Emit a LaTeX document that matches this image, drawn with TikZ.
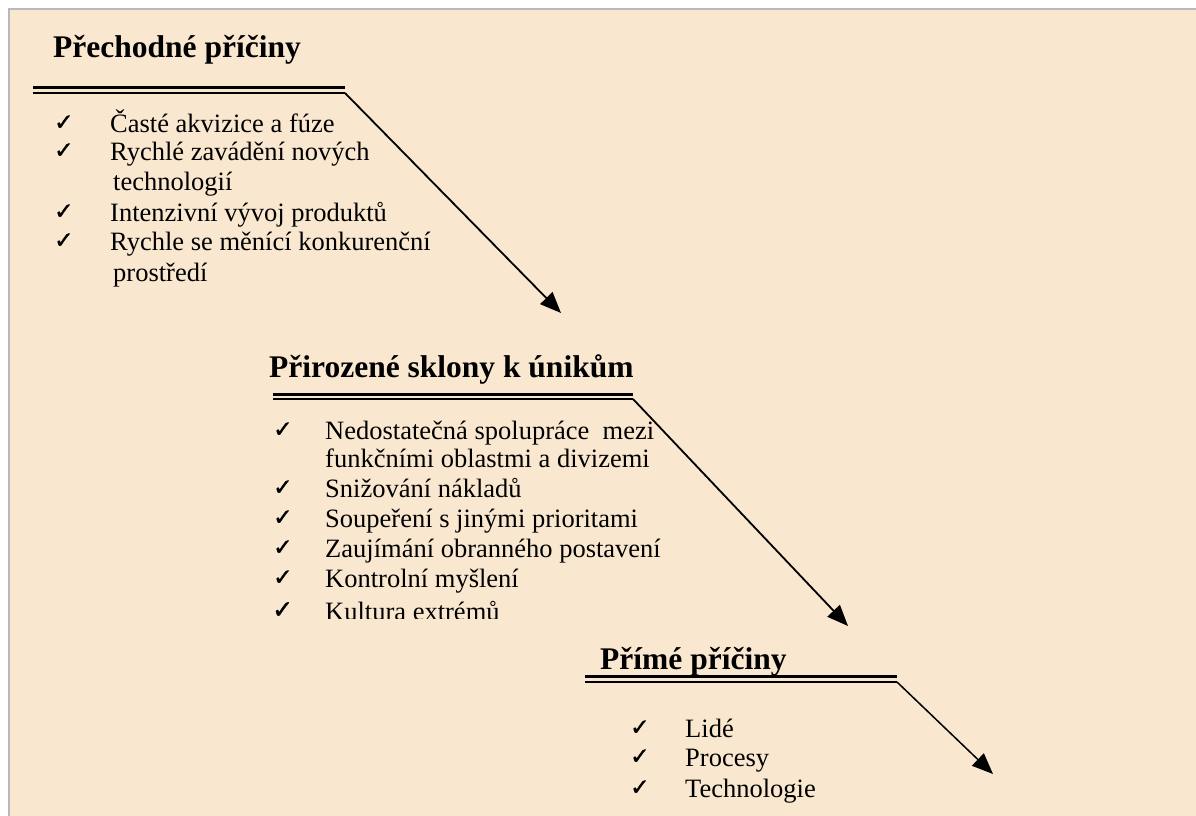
\documentclass[tikz,border=0pt]{standalone}
\usepackage{fontspec}
\setmainfont{Liberation Serif}
\newfontfamily\chkfont[FakeBold=1.5]{DejaVu Sans}
\usetikzlibrary{arrows.meta}
\definecolor{parch}{RGB}{249,231,208}
\definecolor{framegray}{RGB}{185,185,185}
\tikzset{
 head/.style={anchor=base west, inner sep=0pt, font=\fontsize{31.5}{36}\selectfont\bfseries},
 item/.style={anchor=base west, inner sep=0pt, font=\fontsize{26.5}{30}\selectfont},
 tick/.style={anchor=base west, inner sep=0pt, yshift=2pt, font=\chkfont\fontsize{23}{25}\selectfont},
 thickrule/.style={line width=3pt},
 thinrule/.style={line width=1.8pt},
 pointer/.style={line width=1.8pt, -{Triangle[length=21pt,width=17pt]}},
}
\begin{document}
\begin{tikzpicture}[x=1pt,y=-1pt]
\useasboundingbox (0,0) rectangle (1196,816);
\fill[white] (0,0) rectangle (1196,816);
\fill[parch] (9,9) rectangle (1196,816);
\draw[framegray, line width=2pt] (9,816) -- (9,9) -- (1196,9);

% ---------- section 1
\node[head] (h1) at (53,58) {Přechodné příčiny};
\coordinate (a1) at (33,87.5);  \coordinate (b1) at (345,87.5);
\coordinate (c1) at (33,93);    \coordinate (d1) at (345,93);
\coordinate (t1) at (561,313);
\draw[thickrule] (a1) -- (b1);
\draw[thinrule] (c1) -- (d1);
\draw[pointer] (d1) -- (t1);

\node[tick] (k11) at (54,132) {✓};
\node[item] (i11) at (110,132) {Časté akvizice a fúze};
\node[tick] (k12) at (54,160) {✓};
\node[item] (i12) at (110,160) {Rychlé zavádění nových};
\node[item] (i12b) at (113,190) {technologií};
\node[tick] (k13) at (54,221) {✓};
\node[item] (i13) at (110,221) {Intenzivní vývoj produktů};
\node[tick] (k14) at (54,250) {✓};
\node[item] (i14) at (110,250) {Rychle se měnící konkurenční};
\node[item] (i14b) at (113,281) {prostředí};

% ---------- section 2
\node[head] (h2) at (269,377) {Přirozené sklony k únikům};
\coordinate (a2) at (273,394);  \coordinate (b2) at (633,394);
\coordinate (c2) at (273,399);  \coordinate (d2) at (633,399);
\coordinate (t2) at (848,626);
\draw[thickrule] (a2) -- (b2);
\draw[thinrule] (c2) -- (d2);
\draw[pointer] (d2) -- (t2);

\node[tick] (k21) at (273,439) {✓};
\node[item] (i21) at (325,439) {Nedostatečná spolupráce\ \ mezi};
\node[item] (i21b) at (325,467) {funkčními oblastmi a divizemi};
\node[tick] (k22) at (273,497) {✓};
\node[item] (i22) at (325,497) {Snižování nákladů};
\node[tick] (k23) at (273,527) {✓};
\node[item] (i23) at (325,527) {Soupeření s jinými prioritami};
\node[tick] (k24) at (273,557) {✓};
\node[item] (i24) at (325,557) {Zaujímání obranného postavení};
\node[tick] (k25) at (273,587) {✓};
\node[item] (i25) at (325,587) {Kontrolní myšlení};
\node[tick, font=\chkfont\fontsize{25}{27}\selectfont] (k26) at (272,620) {✓};
\begin{scope}
\clip (320,590) rectangle (700,618);
\node[item] (i26) at (325,620) {Kultura extrémů};
\end{scope}

% ---------- section 3
\node[head] (h3) at (600,669) {Přímé příčiny};
\coordinate (a3) at (585,676.5); \coordinate (b3) at (897,676.5);
\coordinate (c3) at (585,682);   \coordinate (d3) at (897,682);
\coordinate (t3) at (993,774);
\draw[thickrule] (a3) -- (b3);
\draw[thinrule] (c3) -- (d3);
\draw[pointer, line width=1.5pt] (d3) -- (t3);

\node[tick] (k31) at (630,737) {✓};
\node[item] (i31) at (685,737) {Lidé};
\node[tick] (k32) at (630,766) {✓};
\node[item] (i32) at (685,766) {Procesy};
\node[tick] (k33) at (630,797) {✓};
\node[item] (i33) at (685,797) {Technologie};
\end{tikzpicture}
\end{document}
